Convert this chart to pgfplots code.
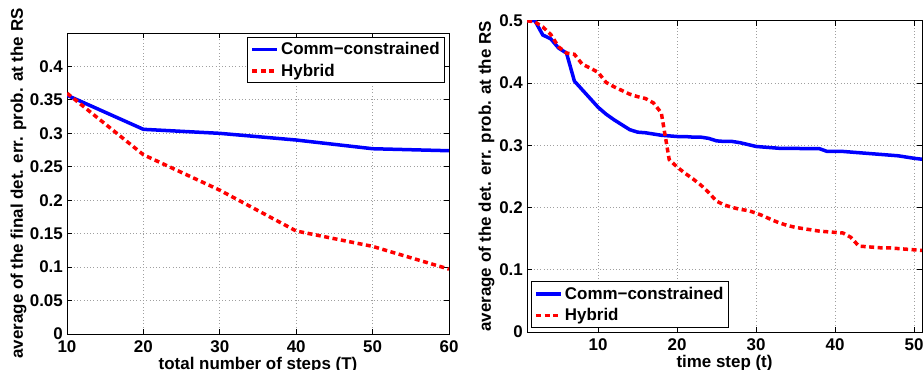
\documentclass[border=0pt]{standalone}
\usepackage{pgfplots}
\pgfplotsset{compat=1.18}
\usepackage{fontspec}
\setmainfont{Liberation Sans}
\begin{document}
\begin{tikzpicture}
\pgfplotsset{
  mystyle/.style={
    scale only axis,
    axis line style={black, line width=1bp},
    tick style={black, line width=0.8bp},
    major tick length=5bp,
    grid=major,
    grid style={dash pattern=on 0.9bp off 2.4bp, gray!75, line width=0.8bp},
    /pgf/number format/assume math mode=true,
    tick label style={font=\fontsize{17}{20}\selectfont\bfseries, inner sep=0pt},
    xticklabel style={yshift=-6bp},
    yticklabel style={xshift=-4bp, /pgf/number format/fixed, /pgf/number format/precision=2},
    label style={font=\fontsize{17}{20}\selectfont\bfseries, inner sep=0pt},
    legend style={font=\fontsize{17}{20}\selectfont\bfseries, draw=black, line width=1bp, inner xsep=3bp, inner ysep=3bp, row sep=4bp},
    legend cell align=left,
    legend image code/.code={\draw[#1] (0bp,0bp) -- (25bp,0bp);},
    every axis plot/.append style={line width=3.5bp},
  },
  blueline/.style={color={rgb,1:red,0;green,0;blue,1}, solid},
  redline/.style={color={rgb,1:red,1;green,0;blue,0}, dash pattern=on 5bp off 3.5bp},
}
\begin{axis}[mystyle,
  at={(67bp,-334bp)}, anchor=south west,
  width=382bp, height=301bp,
  xmin=10, xmax=60, ymin=0, ymax=0.45,
  xtick={10,20,30,40,50,60},
  ytick={0,0.05,0.1,0.15,0.2,0.25,0.3,0.35,0.4},
  xlabel={total number of steps (T)},
  ylabel={average of the final det. err. prob. at the RS},
  xlabel style={at={(axis description cs:0.5,0)}, anchor=north, yshift=-23bp},
  ylabel style={at={(axis description cs:-0.127,0.5)}, anchor=center},
  legend style={at={(axis description cs:0.99,0.987)}, anchor=north east},
]
\addplot[blueline] coordinates {(10,0.357) (20,0.306) (30,0.300) (40,0.290) (50,0.277) (60,0.274)};
\addlegendentry{Comm−constrained}
\addplot[redline] coordinates {(10,0.360) (20,0.268) (30,0.215) (40,0.154) (50,0.131) (60,0.097)};
\addlegendentry{Hybrid}
\end{axis}
\begin{axis}[mystyle,
  at={(527bp,-332bp)}, anchor=south west,
  width=395bp, height=311.3bp,
  xmin=1, xmax=51, ymin=0, ymax=0.5,
  xtick={10,20,30,40,50},
  ytick={0,0.1,0.2,0.3,0.4,0.5},
  xlabel={time step (t)},
  ylabel={average of the det. err. prob. at the RS},
  xlabel style={at={(axis description cs:0.5,0)}, anchor=north, yshift=-23bp},
  ylabel style={at={(axis description cs:-0.1025,0.5)}, anchor=center},
  legend style={at={(axis description cs:0.01,0.013)}, anchor=south west},
]
\addplot[blueline] coordinates {
(1,0.5) (2,0.5) (3,0.477) (4,0.471) (5,0.456) (6,0.448) (7,0.403) (8,0.389) (9,0.375) (10,0.361)
(11,0.350) (12,0.341) (13,0.333) (14,0.325) (15,0.321) (16,0.320) (17,0.318) (18,0.316) (19,0.315) (20,0.314)
(21,0.314) (22,0.313) (23,0.313) (24,0.311) (25,0.307) (26,0.306) (27,0.306) (28,0.304) (29,0.301) (30,0.298)
(31,0.297) (32,0.296) (33,0.295) (34,0.295) (35,0.295) (36,0.2945) (37,0.2945) (38,0.2945) (39,0.290) (40,0.290)
(41,0.290) (42,0.289) (43,0.288) (44,0.287) (45,0.286) (46,0.285) (47,0.284) (48,0.283) (49,0.281) (50,0.279) (51,0.2775)};
\addlegendentry{Comm−constrained}
\addplot[redline] coordinates {
(1,0.500) (2,0.498) (3,0.490) (4,0.478) (5,0.458) (6,0.448) (7,0.446) (8,0.430) (9,0.424) (10,0.417)
(11,0.401) (12,0.394) (13,0.388) (14,0.382) (15,0.378) (16,0.375) (17,0.368) (18,0.352) (19,0.277) (20,0.265)
(21,0.255) (22,0.246) (23,0.236) (24,0.224) (25,0.210) (26,0.204) (27,0.200) (28,0.197) (29,0.195) (30,0.191)
(31,0.186) (32,0.180) (33,0.175) (34,0.171) (35,0.168) (36,0.166) (37,0.164) (38,0.162) (39,0.161) (40,0.160)
(41,0.159) (42,0.152) (43,0.138) (44,0.137) (45,0.136) (46,0.135) (47,0.135) (48,0.134) (49,0.133) (50,0.132) (51,0.131)};
\addlegendentry{Hybrid}
\end{axis}
\pgfresetboundingbox
\useasboundingbox (0bp,0bp) rectangle (924bp,-370bp);
\end{tikzpicture}
\end{document}
